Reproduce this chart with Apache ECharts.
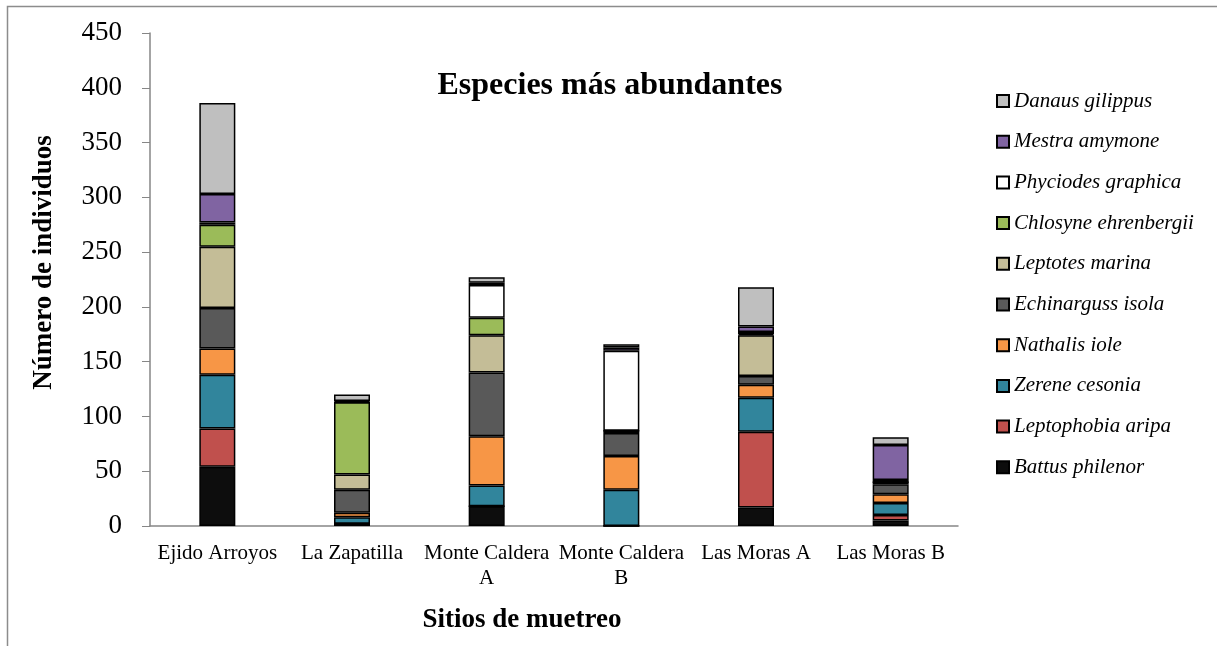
<!DOCTYPE html>
<html>
<head>
<meta charset="utf-8">
<script src="https://cdn.jsdelivr.net/npm/echarts@6/dist/echarts.min.js"></script>
<style>
html,body{margin:0;padding:0;background:#fff;}
#chart{width:1217px;height:646px;}
</style>
</head>
<body>
<div id="chart"></div>
<script>
const categories = ['Ejido Arroyos', 'La Zapatilla', 'Monte Caldera\nA', 'Monte Caldera\nB', 'Las Moras A', 'Las Moras B'];
const yTicks = [0, 50, 100, 150, 200, 250, 300, 350, 400, 450];

const battusPhilenor      = [54, 2, 18, 0, 17, 5];
const leptophobiaAripa    = [35, 0, 0, 0, 69, 5];
const zereneCesonia       = [49, 6, 19, 33, 31, 11];
const nathalisIole        = [24, 4, 45, 31, 12, 8];
const echinargussIsola    = [37, 21, 58, 21, 8, 9];
const leptotesMarina      = [56, 14, 34, 2, 37, 2];
const chlosyneEhrenbergii = [20, 66, 16, 0, 1, 0];
const phyciodesGraphica   = [2, 0, 30, 73, 2, 2];
const mestraAmymone       = [26, 1, 2, 3, 5, 32];
const danausGilippus      = [83, 6, 5, 3, 36, 7];

const seriesDefs = [
  ['Battus philenor', battusPhilenor, '#0d0d0d'],
  ['Leptophobia aripa', leptophobiaAripa, '#c0504d'],
  ['Zerene cesonia', zereneCesonia, '#31859c'],
  ['Nathalis iole', nathalisIole, '#f79646'],
  ['Echinarguss isola', echinargussIsola, '#595959'],
  ['Leptotes marina', leptotesMarina, '#c4bd97'],
  ['Chlosyne ehrenbergii', chlosyneEhrenbergii, '#9bbb59'],
  ['Phyciodes graphica', phyciodesGraphica, '#ffffff'],
  ['Mestra amymone', mestraAmymone, '#8064a2'],
  ['Danaus gilippus', danausGilippus, '#bfbfbf']
];

const chart = echarts.init(document.getElementById('chart'), null, {renderer: 'canvas'});
const serif = '"Liberation Serif", "DejaVu Serif", serif';

const option = {
  animation: false,
  backgroundColor: '#ffffff',
  textStyle: {fontFamily: serif},
  title: {
    text: 'Especies más abundantes',
    left: 605, top: 65, textAlign: 'center',
    textStyle: {fontFamily: serif, fontWeight: 'bold', fontSize: 32, color: '#000'}
  },
  legend: {
    orient: 'vertical',
    left: 991, top: 85.5,
    itemWidth: 12, itemHeight: 12,
    itemGap: 19.7,
    icon: 'rect',
    data: seriesDefs.map(s => s[0]).reverse(),
    textStyle: {fontFamily: serif, fontStyle: 'italic', fontSize: 21, color: '#000', lineHeight: 21}
  },
  grid: {left: 150, top: 33, width: 808, bottom: 120, containLabel: false},
  xAxis: {
    type: 'category',
    data: categories,
    name: 'Sitios de muetreo',
    nameLocation: 'middle',
    nameGap: 81,
    nameTextStyle: {fontFamily: serif, fontWeight: 'bold', fontSize: 27, color: '#000', padding: [0, 64, 0, 0]},
    axisLine: {lineStyle: {color: '#868686', width: 1.5}},
    axisTick: {show: false},
    axisLabel: {fontFamily: serif, fontSize: 21, color: '#000', margin: 15, lineHeight: 25, interval: 0}
  },
  yAxis: {
    type: 'value',
    min: yTicks[0], max: yTicks[yTicks.length - 1], interval: 50,
    name: 'Número de individuos',
    nameLocation: 'middle',
    nameGap: 92,
    nameRotate: 90,
    nameTextStyle: {fontFamily: serif, fontWeight: 'bold', fontSize: 27, color: '#000', padding: [0, 0, 0, 34]},
    axisLine: {show: true, lineStyle: {color: '#868686', width: 1.5}},
    axisTick: {show: true, inside: false, length: 8, lineStyle: {color: '#868686'}},
    splitLine: {show: false},
    axisLabel: {fontFamily: serif, fontSize: 27, color: '#000', margin: 28}
  },
  graphic: [{
    type: 'rect',
    shape: {x: 7.5, y: 6.5, width: 1240, height: 700},
    style: {fill: 'none', stroke: '#8c8c8c', lineWidth: 1.5},
    silent: true, z: -1
  }],
  series: seriesDefs.map(([name, data, color]) => ({
    name, type: 'bar', stack: 'total', data,
    barWidth: 36,
    itemStyle: {color, borderColor: '#000', borderWidth: 1.5}
  }))
};
chart.setOption(option);
</script>
</body>
</html>
